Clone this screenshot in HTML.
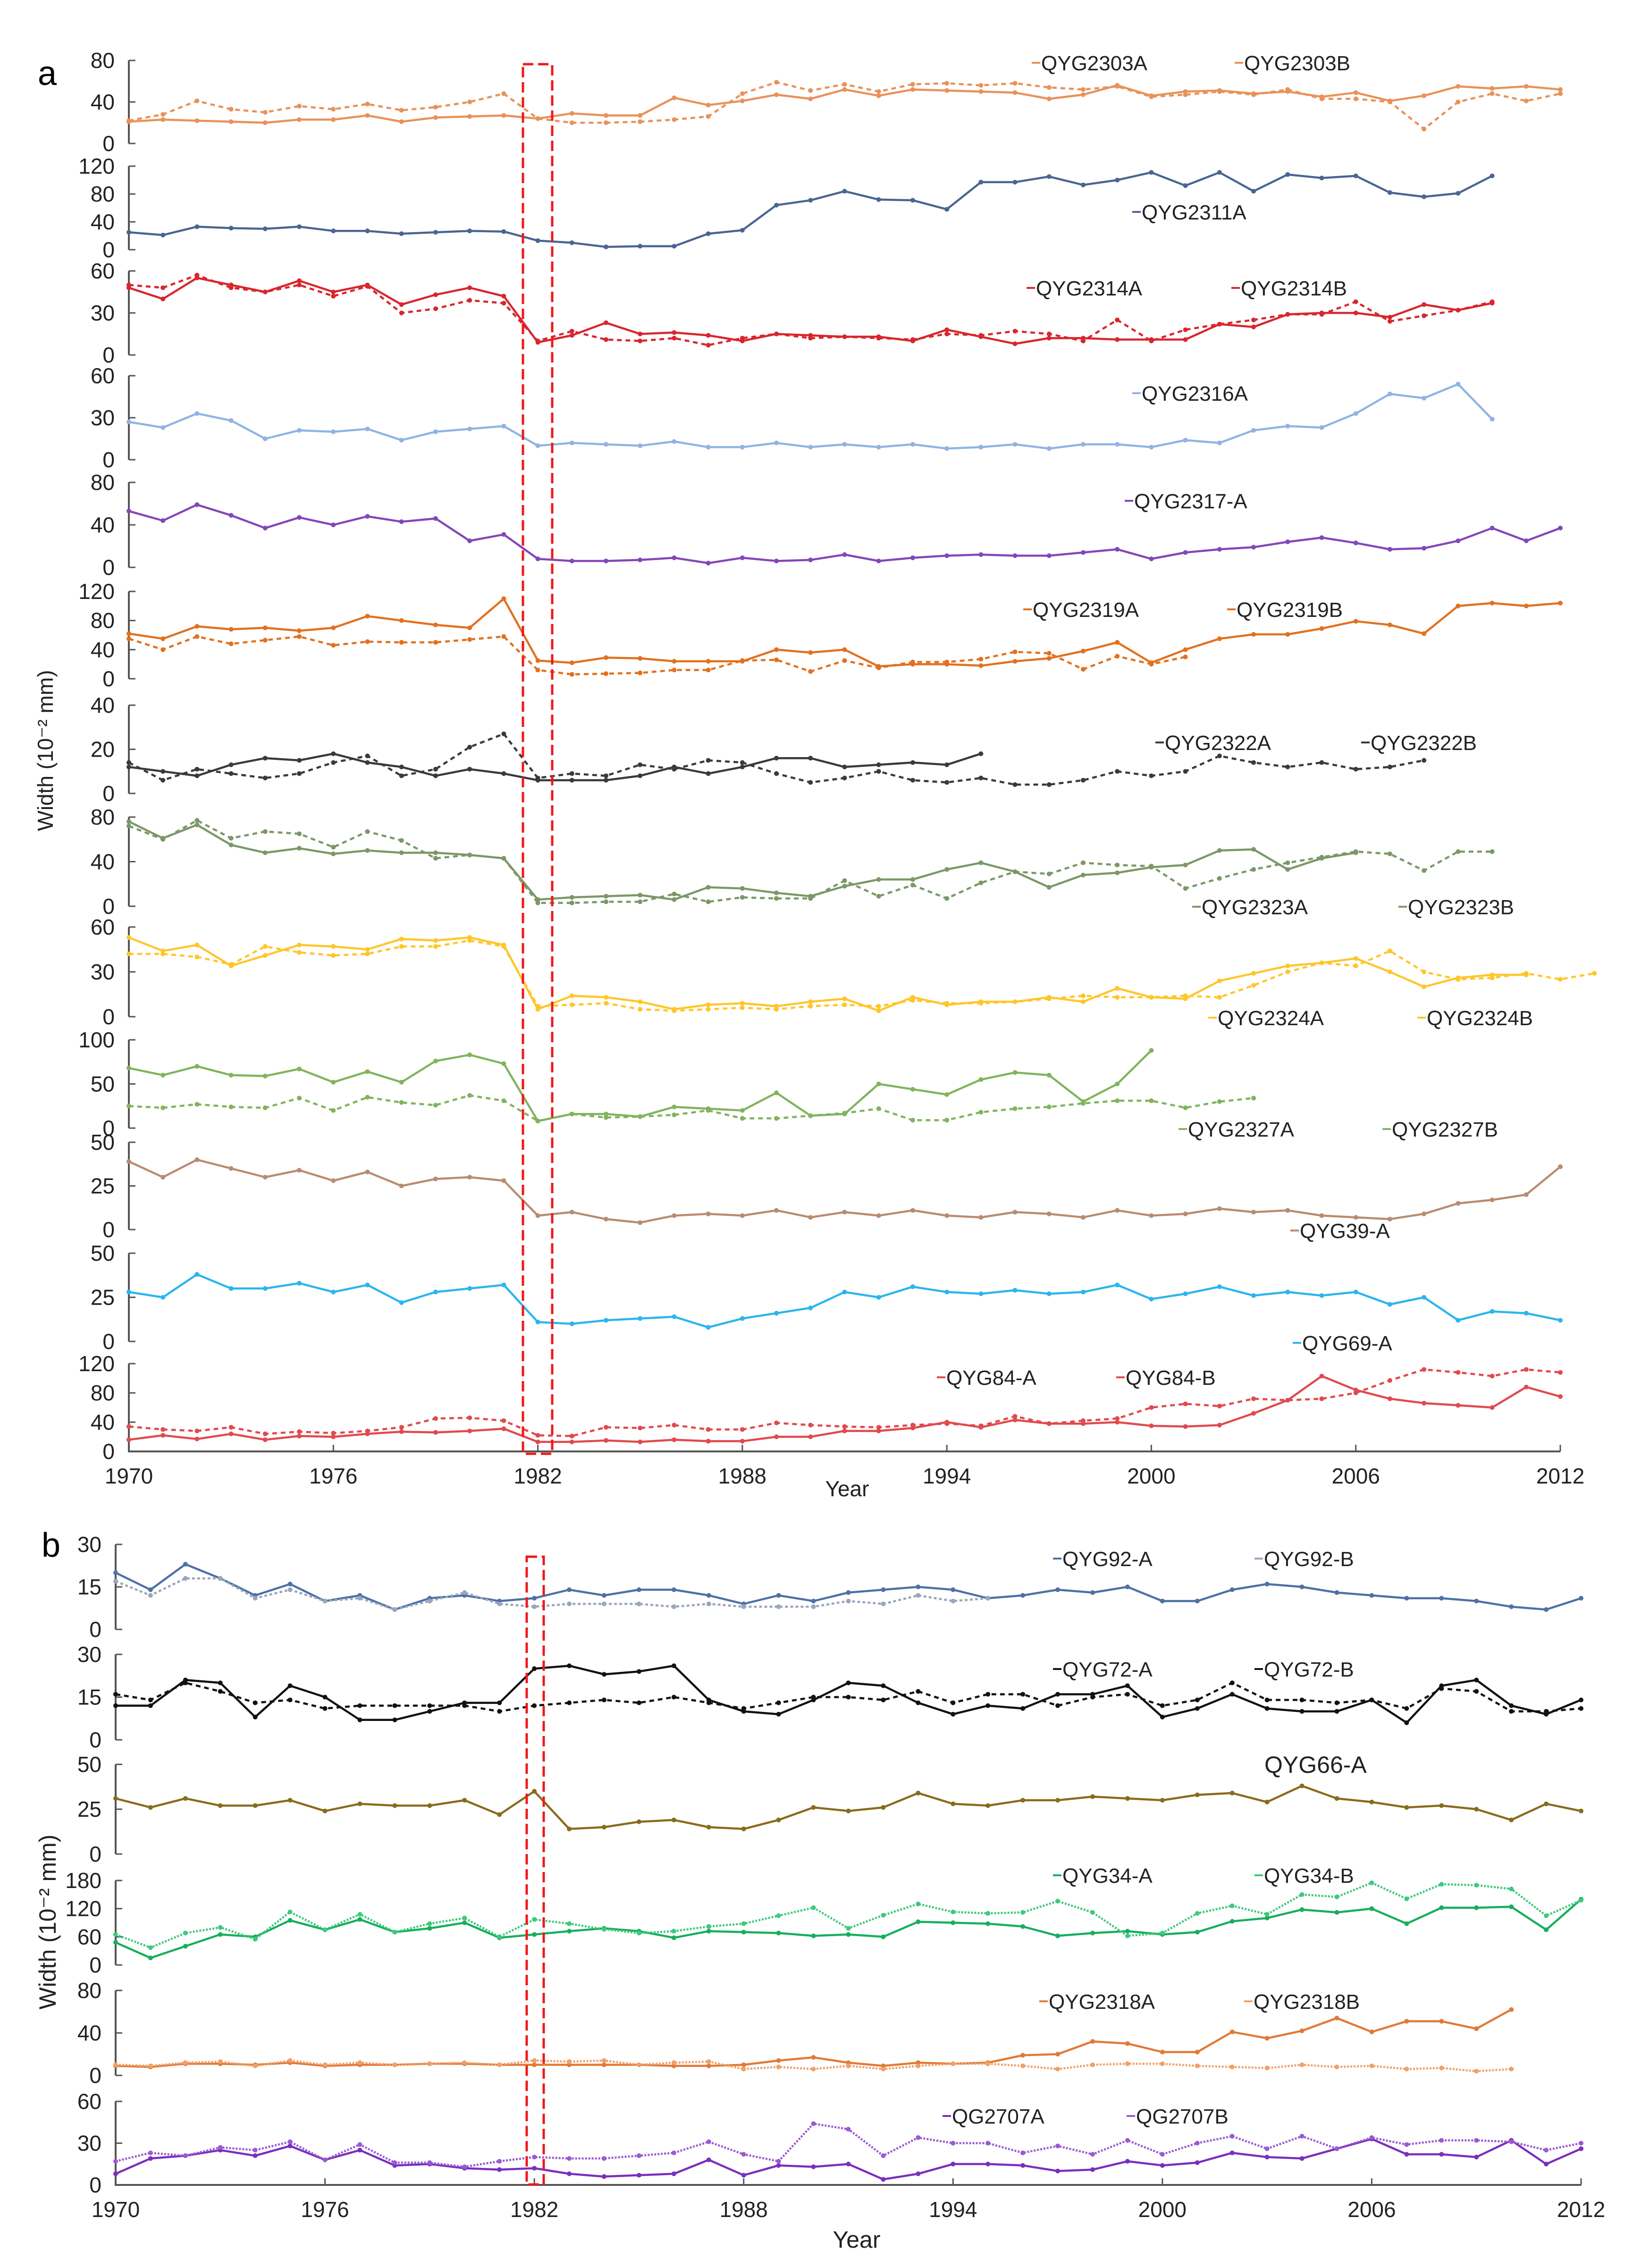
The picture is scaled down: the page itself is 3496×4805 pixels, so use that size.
<!DOCTYPE html>
<html><head><meta charset="utf-8"><style>
html,body{margin:0;padding:0;background:#fff;}
svg{display:block;font-family:"Liberation Sans",Arial,sans-serif;}
</style></head><body>
<svg id="chart" width="3496" height="4805" viewBox="0 0 3496 4805" xmlns="http://www.w3.org/2000/svg">
<rect width="3496" height="4805" fill="#fff"/>
<text x="80" y="180" font-size="72">a</text>
<text x="88" y="3298" font-size="72">b</text>
<text transform="translate(112,1590) rotate(-90)" text-anchor="middle" font-size="46" fill="#222">Width (10⁻² mm)</text>
<text transform="translate(118,4072) rotate(-90)" text-anchor="middle" font-size="50" fill="#222">Width (10⁻² mm)</text>
<text x="1795" y="3170" text-anchor="middle" font-size="46" fill="#222">Year</text>
<text x="1815" y="4762" text-anchor="middle" font-size="50" fill="#222">Year</text>
<g id="marks"></g>
</svg>
<script>
// ---- data (1970 onward, one value per year) ----
const startYear = 1970;
const xTickYears = [1970,1976,1982,1988,1994,2000,2006,2012];
const s2303A=[21,23,22,21,20,23,23,27,21,25,26,27,24,29,27,27,44,37,41,47,43,52,46,52,51,50,49,43,47,56,46,50,51,48,50,45,49,41,46,55,53,55,52];
const s2303B=[22,28,41,33,30,36,33,38,32,35,40,48,24,20,20,21,23,26,48,59,51,57,50,57,58,56,58,54,52,55,45,47,50,47,52,43,43,40,14,40,48,41,48];
const s2311A=[25,21,33,31,30,33,27,27,23,25,27,26,13,10,4,5,5,23,28,64,71,84,72,71,58,97,97,105,93,100,111,92,111,84,108,103,106,82,76,81,106];
const s2314A=[48,40,55,50,45,53,45,50,36,43,48,42,9,14,23,15,16,14,10,15,14,13,13,10,18,13,8,12,12,11,11,11,22,20,29,30,30,27,36,32,37];
const s2314B=[50,48,57,48,45,50,42,49,30,33,39,37,10,17,11,10,12,7,12,15,12,13,12,11,15,14,17,15,10,25,10,18,22,25,29,29,38,24,28,32,38];
const s2316A=[27,23,33,28,15,21,20,22,14,20,22,24,10,12,11,10,13,9,9,12,9,11,9,11,8,9,11,8,11,11,9,14,12,21,24,23,33,47,44,54,29];
const s2317A=[53,44,59,49,37,47,40,48,43,46,25,31,8,6,6,7,9,4,9,6,7,12,6,9,11,12,11,11,14,17,8,14,17,19,24,28,23,17,18,25,37,25,37];
const s2319A=[62,55,72,68,70,66,70,86,80,74,70,110,25,22,29,28,24,24,24,40,36,40,17,20,20,18,24,28,38,50,22,40,55,61,61,69,79,74,62,100,104,100,104];
const s2319B=[55,40,58,48,53,58,46,51,50,50,54,58,12,6,7,8,12,12,25,26,10,25,15,23,23,27,37,35,13,31,20,30];
const s2322A=[12,10,8,13,16,15,18,14,12,8,11,9,6,6,6,8,12,9,12,16,16,12,13,14,13,18];
const s2322B=[14,6,11,9,7,9,14,17,8,11,21,27,7,9,8,13,11,15,14,9,5,7,10,6,5,7,4,4,6,10,8,10,17,14,12,14,11,12,15];
const s2323A=[76,61,73,55,48,52,47,50,48,48,46,43,6,8,9,10,6,17,16,12,9,18,24,24,33,39,31,17,28,30,35,37,50,51,33,43,48];
const s2323B=[72,60,77,61,67,65,53,67,59,43,46,43,3,3,4,4,11,4,8,7,7,23,9,19,7,21,31,29,39,37,36,16,25,33,39,44,49,47,32,49,49];
const s2324A=[53,44,48,34,41,48,47,45,52,51,53,48,5,14,13,10,5,8,9,7,10,12,4,13,8,10,10,13,10,19,13,12,24,29,34,36,39,30,20,26,28,28];
const s2324B=[42,42,40,35,47,43,41,42,47,47,51,47,7,8,9,5,4,5,6,5,7,8,7,11,9,9,10,12,14,13,13,14,13,21,30,36,34,44,30,25,26,29,25,29];
const s2327A=[68,60,70,60,59,67,52,64,52,76,83,73,8,16,16,13,24,22,20,40,14,16,50,44,38,55,63,60,30,50,88];
const s2327B=[25,23,27,24,23,34,20,35,29,26,37,31,8,16,12,13,15,20,11,11,14,17,22,9,9,18,22,24,28,31,31,23,30,34];
const sQYG39A=[39,30,40,35,30,34,28,33,25,29,30,28,8,10,6,4,8,9,8,11,7,10,8,11,8,7,10,9,7,11,8,9,12,10,11,8,7,6,9,15,17,20,36];
const sQYG69A=[28,25,38,30,30,33,28,32,22,28,30,32,11,10,12,13,14,8,13,16,19,28,25,31,28,27,29,27,28,32,24,27,31,26,28,26,28,21,25,12,17,16,12];
const sQYG84A=[16,22,17,24,16,21,20,24,27,26,28,31,13,13,15,13,16,14,14,20,20,28,28,32,40,33,43,38,38,40,35,34,36,52,70,103,84,72,66,63,60,88,75];
const sQYG84B=[34,30,28,33,24,27,25,28,33,45,46,42,22,21,33,32,36,30,30,39,36,34,33,36,38,35,48,38,42,45,60,65,62,72,70,72,80,97,112,108,103,112,108];
const sQYG92A=[20,14,23,18,12,16,10,12,7,11,12,10,11,14,12,14,14,12,9,12,10,13,14,15,14,11,12,14,13,15,10,10,14,16,15,13,12,11,11,10,8,7,11];
const sQYG92B=[17,12,18,18,11,14,10,11,7,10,13,9,8,9,9,9,8,9,8,8,8,10,9,12,10,11];
const sQYG72A=[12,12,21,20,8,19,15,7,7,10,13,13,25,26,23,24,26,14,10,9,14,20,19,13,9,12,11,16,16,19,8,11,16,11,10,10,14,6,19,21,12,9,14];
const sQYG72B=[16,14,20,17,13,14,11,12,12,12,12,10,12,13,14,13,15,13,11,13,15,15,14,17,13,16,16,12,15,16,12,14,20,14,14,13,14,11,18,17,10,10,11];
const sQYG66A=[31,26,31,27,27,30,24,28,27,27,30,22,35,14,15,18,19,15,14,19,26,24,26,34,28,27,30,30,32,31,30,33,34,29,38,31,29,26,27,25,19,28,24];
const sQYG34A=[48,15,40,65,60,95,75,97,70,78,90,58,65,72,78,72,58,72,70,68,62,65,60,92,90,88,82,62,68,72,65,70,93,100,118,112,120,88,122,122,124,75,140];
const sQYG34B=[65,37,68,80,55,113,75,108,70,88,100,60,97,88,76,68,72,82,88,105,122,78,106,130,113,110,112,136,112,62,68,110,126,108,150,145,175,141,172,170,162,105,138];
const s2318A=[9,8,11,11,10,12,9,10,10,11,11,10,10,10,10,10,9,9,10,14,17,12,9,12,11,12,19,20,32,30,22,22,41,35,42,54,41,51,51,44,62];
const s2318B=[10,9,12,13,9,14,10,12,10,11,12,10,14,13,14,10,12,13,6,8,6,9,6,9,11,11,9,6,10,11,11,9,8,7,10,8,9,6,7,4,6];
const s2707A=[8,19,21,25,21,28,18,25,14,15,12,11,12,8,6,7,8,18,7,14,13,15,4,8,15,15,14,10,11,17,14,16,23,20,19,26,33,22,22,20,32,15,26];
const s2707B=[17,23,21,27,25,31,18,29,16,16,13,17,20,19,19,21,23,31,22,17,44,40,21,34,30,30,23,28,22,32,22,30,35,26,35,26,34,29,32,32,31,25,30];

// ---- layout ----
const NS="http://www.w3.org/2000/svg";
const g=document.getElementById('marks');
function mk(tag,attrs){const e=document.createElementNS(NS,tag);for(const k in attrs)e.setAttribute(k,attrs[k]);g.appendChild(e);return e;}
const A={x0:273,x1:3306}, B={x0:245,x1:3350};
function xs(p,year){return p.x0+(year-startYear)*(p.x1-p.x0)/42;}

const panels=[
 {id:'qyg2303',X:A,top:128,bot:304,max:80,ticks:[0,40,80],series:[
   {name:'QYG2303A',d:s2303A,c:'#e8925a',dash:null},{name:'QYG2303B',d:s2303B,c:'#e8925a',dash:'10,8'}],
   legend:[[2200,133],[2630,133]]},
 {id:'qyg2311',X:A,top:352,bot:529,max:120,ticks:[0,40,80,120],series:[
   {name:'QYG2311A',d:s2311A,c:'#4a6592',dash:null}],legend:[[2413,449]]},
 {id:'qyg2314',X:A,top:574,bot:752,max:60,ticks:[0,30,60],series:[
   {name:'QYG2314A',d:s2314A,c:'#d8262e',dash:null},{name:'QYG2314B',d:s2314B,c:'#d8262e',dash:'10,8'}],
   legend:[[2189,610],[2623,610]]},
 {id:'qyg2316',X:A,top:796,bot:974,max:60,ticks:[0,30,60],series:[
   {name:'QYG2316A',d:s2316A,c:'#8fb4e3',dash:null}],legend:[[2413,833]]},
 {id:'qyg2317',X:A,top:1022,bot:1202,max:80,ticks:[0,40,80],series:[
   {name:'QYG2317-A',d:s2317A,c:'#8446b8',dash:null}],legend:[[2397,1061]]},
 {id:'qyg2319',X:A,top:1253,bot:1438,max:120,ticks:[0,40,80,120],series:[
   {name:'QYG2319A',d:s2319A,c:'#e2711f',dash:null},{name:'QYG2319B',d:s2319B,c:'#e2711f',dash:'10,8'}],
   legend:[[2182,1291],[2614,1291]]},
 {id:'qyg2322',X:A,top:1494,bot:1681,max:40,ticks:[0,20,40],series:[
   {name:'QYG2322A',d:s2322A,c:'#3a3a3a',dash:null},{name:'QYG2322B',d:s2322B,c:'#3a3a3a',dash:'10,8'}],
   legend:[[2462,1573],[2898,1573]]},
 {id:'qyg2323',X:A,top:1731,bot:1920,max:80,ticks:[0,40,80],series:[
   {name:'QYG2323A',d:s2323A,c:'#7b9868',dash:null},{name:'QYG2323B',d:s2323B,c:'#7b9868',dash:'10,8'}],
   legend:[[2540,1921],[2977,1921]]},
 {id:'qyg2324',X:A,top:1964,bot:2154,max:60,ticks:[0,30,60],series:[
   {name:'QYG2324A',d:s2324A,c:'#ffc62a',dash:null},{name:'QYG2324B',d:s2324B,c:'#ffc62a',dash:'10,8'}],
   legend:[[2574,2156],[3017,2156]]},
 {id:'qyg2327',X:A,top:2203,bot:2390,max:100,ticks:[0,50,100],series:[
   {name:'QYG2327A',d:s2327A,c:'#80b45e',dash:null},{name:'QYG2327B',d:s2327B,c:'#80b45e',dash:'10,8'}],
   legend:[[2511,2392],[2943,2392]]},
 {id:'qyg39',X:A,top:2420,bot:2605,max:50,ticks:[0,25,50],series:[
   {name:'QYG39-A',d:sQYG39A,c:'#b88c70',dash:null}],legend:[[2748,2607]]},
 {id:'qyg69',X:A,top:2655,bot:2842,max:50,ticks:[0,25,50],series:[
   {name:'QYG69-A',d:sQYG69A,c:'#2cb5ee',dash:null}],legend:[[2753,2845]]},
 {id:'qyg84',X:A,top:2889,bot:3075,max:120,ticks:[0,40,80,120],xaxis:true,series:[
   {name:'QYG84-A',d:sQYG84A,c:'#e04a4e',dash:null},{name:'QYG84-B',d:sQYG84B,c:'#e04a4e',dash:'10,8'}],
   legend:[[1999,2918],[2379,2918]]},
 {id:'qyg92',X:B,top:3272,bot:3452,max:30,ticks:[0,15,30],series:[
   {name:'QYG92-A',d:sQYG92A,c:'#4d71a6',dash:null},{name:'QYG92-B',d:sQYG92B,c:'#9aa6bb',dash:'6,5'}],
   legend:[[2245,3302],[2672,3302]]},
 {id:'qyg72',X:B,top:3505,bot:3686,max:30,ticks:[0,15,30],series:[
   {name:'QYG72-A',d:sQYG72A,c:'#111111',dash:null},{name:'QYG72-B',d:sQYG72B,c:'#111111',dash:'10,8'}],
   legend:[[2245,3536],[2672,3536]]},
 {id:'qyg66',X:B,top:3738,bot:3928,max:50,ticks:[0,25,50],series:[
   {name:'QYG66-A',d:sQYG66A,c:'#8a6b1c',dash:null}],legend:[]},
 {id:'qyg34',X:B,top:3984,bot:4163,max:180,ticks:[0,60,120,180],series:[
   {name:'QYG34-A',d:sQYG34A,c:'#18ae5e',dash:null},{name:'QYG34-B',d:sQYG34B,c:'#3ec97c',dash:'4,3'}],
   legend:[[2245,3973],[2672,3973]]},
 {id:'qyg2318',X:B,top:4217,bot:4397,max:80,ticks:[0,40,80],series:[
   {name:'QYG2318A',d:s2318A,c:'#e07a38',dash:null},{name:'QYG2318B',d:s2318B,c:'#f0a068',dash:'4,3'}],
   legend:[[2216,4240],[2650,4240]]},
 {id:'qg2707',X:B,top:4452,bot:4629,max:60,ticks:[0,30,60],xaxis:true,series:[
   {name:'QG2707A',d:s2707A,c:'#7a2fbe',dash:null},{name:'QG2707B',d:s2707B,c:'#9a5ad2',dash:'4,3'}],
   legend:[[2011,4483],[2401,4483]]}
];

panels.forEach(p=>{
  const ys=v=>p.bot-(v/p.max)*(p.bot-p.top);
  const ax=mk('path',{d:`M${p.X.x0},${p.top} V${p.bot}`+(p.xaxis?` H${p.X.x1}`:''),stroke:'#555','stroke-width':4,fill:'none'});
  
  
  p.ticks.forEach(t=>{
    const y=ys(t);
    const tk=mk('line',{x1:p.X.x0,x2:p.X.x0+14,y1:y,y2:y,stroke:'#555','stroke-width':3});
    
    
    const tl=mk('text',{x:p.X.x0-30,y:y+16,'text-anchor':'end','font-size':46,fill:'#222'});
    tl.textContent=t;
    
    
  });
  if(p.xaxis){
    xTickYears.forEach(yr=>{
      const x=xs(p.X,yr);
      const tk=mk('line',{x1:x,x2:x,y1:p.bot,y2:p.bot-14,stroke:'#555','stroke-width':3});
      
      
      const tl=mk('text',{x:x,y:p.bot+68,'text-anchor':'middle','font-size':46,fill:'#222'});
      tl.textContent=yr;
      
      
    });
  }
  p.series.forEach((s,si)=>{
    const pts=s.d.map((v,i)=>[xs(p.X,startYear+i),ys(v)]);
    const attrs={d:'M'+pts.map(q=>q[0].toFixed(1)+','+q[1].toFixed(1)).join(' L'),stroke:s.c,'stroke-width':4.5,fill:'none','stroke-linejoin':'round'};
    if(s.dash)attrs['stroke-dasharray']=s.dash;
    const ln=mk('path',attrs);
    
    
    pts.forEach(q=>{
      const m=mk('circle',{cx:q[0],cy:q[1],r:5,fill:s.c});
      
      
    });
    const lg=p.legend[si];
    if(lg){
      const lm=mk('line',{x1:lg[0]-14,x2:lg[0]+4,y1:lg[1],y2:lg[1],stroke:s.c,'stroke-width':4});
      
      
      const lt=mk('text',{x:lg[0]+6,y:lg[1]+16,'font-size':44,fill:'#222'});
      lt.textContent=s.name;
      
      
    }
  });
});
// QYG66-A label (no marker)
const t66=mk('text',{x:2679,y:3756,'font-size':50,fill:'#222'});
t66.textContent='QYG66-A';


// red highlight boxes around 1982
const boxA=mk('rect',{x:1108,y:136,width:62,height:2944,fill:'none',stroke:'#f01818','stroke-width':5,'stroke-dasharray':'22,10'});


const boxB=mk('rect',{x:1116,y:3298,width:36,height:1330,fill:'none',stroke:'#f01818','stroke-width':5,'stroke-dasharray':'22,10'});


</script>
</body></html>
